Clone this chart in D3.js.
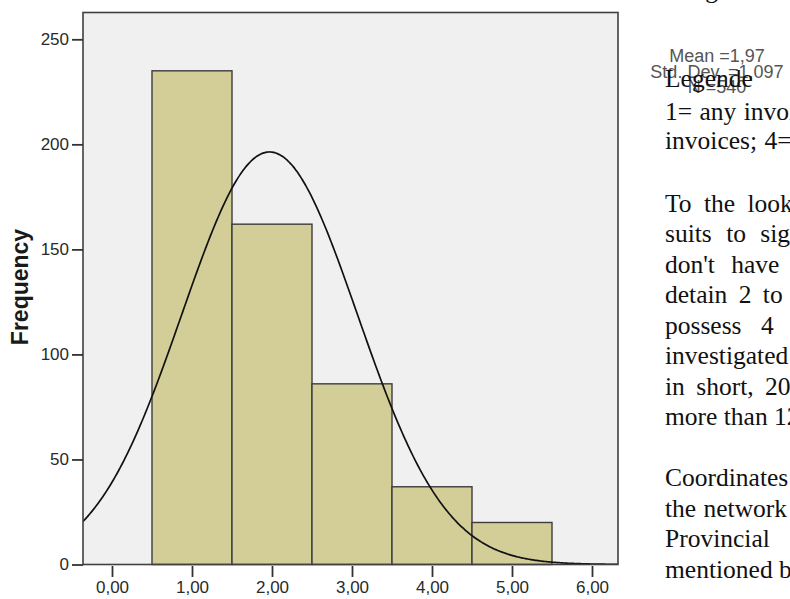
<!DOCTYPE html>
<html>
<head>
<meta charset="utf-8">
<script src="https://cdn.jsdelivr.net/npm/d3@7"></script>
<style>
  html, body { margin: 0; padding: 0; background: #ffffff; }
  svg { display: block; }
</style>
</head>
<body>
<svg id="chart" width="790" height="599"></svg>
<script>
// Histogram of invoice counts with fitted normal curve
const binCenters = [1, 2, 3, 4, 5];
const frequencies = [235, 162, 86, 37, 20];
const binWidth = 1;
const xTicks = [0, 1, 2, 3, 4, 5, 6];
const yTicks = [0, 50, 100, 150, 200, 250];
const meanValue = 1.97;
const stdDev = 1.097;
const totalN = 540;
const statLabels = ["Mean =1,97", "Std. Dev. =1,097", "N =540"];

// Accompanying text column (runs past the page edge)
const headingLines = ["Legende"];
const legendLines = [
  "1= any invoices; 2= 1 invoice; 3= 2 to 3",
  "invoices; 4= more than 3 invoices"
];
const paragraphOne = [
  "To the looking of the table, it",
  "suits to signal that 235 firms",
  "don't have any invoice, 162",
  "detain 2 to 3 invoices and 86",
  "possess 4 invoices of the",
  "investigated firms of the sample;",
  "in short, 20 firms possess",
  "more than 12 invoices."
];
const paragraphTwo = [
  "Coordinates of the firms within",
  "the network of the Chamber of",
  "Provincial Commerce are the",
  "mentioned by the sample."
];

const svg = d3.select("#chart");

const x = d3.scaleLinear().domain([0, 6]).range([112, 592]);
const y = d3.scaleLinear().domain([0, 250]).range([564.5, 39.3]);

const frame = { left: 83, right: 618, top: 12.5, bottom: 564.5 };
const xMin = x.invert(frame.left), xMax = x.invert(frame.right);

// Plot area background
svg.append("rect")
  .attr("x", frame.left).attr("y", frame.top)
  .attr("width", frame.right - frame.left)
  .attr("height", frame.bottom - frame.top)
  .attr("fill", "#f0f0f0");

// Bars
svg.append("g").selectAll("rect")
  .data(binCenters.map((c, i) => ({ c, f: frequencies[i] })))
  .join("rect")
  .attr("x", d => x(d.c - binWidth / 2))
  .attr("y", d => y(d.f))
  .attr("width", d => x(d.c + binWidth / 2) - x(d.c - binWidth / 2))
  .attr("height", d => y(0) - y(d.f))
  .attr("fill", "#d3ce97")
  .attr("stroke", "#3c3c3c")
  .attr("stroke-width", 1.4);

// Normal curve scaled to counts, kept inside the plot frame
svg.append("clipPath").attr("id", "plotClip")
  .append("rect")
  .attr("x", frame.left).attr("y", frame.top)
  .attr("width", frame.right - frame.left)
  .attr("height", frame.bottom - frame.top);

const pdf = v => totalN * binWidth / (stdDev * Math.sqrt(2 * Math.PI)) *
  Math.exp(-0.5 * Math.pow((v - meanValue) / stdDev, 2));
const curvePts = d3.range(xMin, xMax + 0.001, (xMax - xMin) / 300);
svg.append("path")
  .attr("clip-path", "url(#plotClip)")
  .datum(curvePts)
  .attr("d", d3.line().x(v => x(v)).y(v => y(pdf(v))).curve(d3.curveBasis))
  .attr("fill", "none")
  .attr("stroke", "#111")
  .attr("stroke-width", 1.7);

// Frame
svg.append("rect")
  .attr("x", frame.left).attr("y", frame.top)
  .attr("width", frame.right - frame.left)
  .attr("height", frame.bottom - frame.top)
  .attr("fill", "none")
  .attr("stroke", "#404040")
  .attr("stroke-width", 1.6);

// Y axis
const yAxis = d3.axisLeft(y).tickValues(yTicks).tickSize(11).tickPadding(3)
  .tickFormat(d3.format("d"));
const gy = svg.append("g").attr("transform", `translate(${frame.left},0)`).call(yAxis);
gy.select(".domain").remove();
gy.selectAll(".tick line").attr("stroke", "#333").attr("stroke-width", 1.8);
gy.selectAll(".tick text")
  .attr("fill", "#2a2a2a")
  .style("font-family", "'Liberation Sans', Arial, sans-serif")
  .style("font-size", "17px");

// X axis
const xAxis = d3.axisBottom(x).tickValues(xTicks).tickSize(11).tickPadding(4)
  .tickFormat(d => d3.format(".2f")(d).replace(".", ","));
const gx = svg.append("g").attr("transform", `translate(0,${frame.bottom + 1.5})`).call(xAxis);
gx.select(".domain").remove();
gx.selectAll(".tick line").attr("stroke", "#333").attr("stroke-width", 1.8);
gx.selectAll(".tick text")
  .attr("fill", "#2a2a2a")
  .style("font-family", "'Liberation Sans', Arial, sans-serif")
  .style("font-size", "17px");

// Y axis title
svg.append("text")
  .attr("transform", "translate(28,287) rotate(-90)")
  .attr("text-anchor", "middle")
  .style("font-family", "'Liberation Sans', Arial, sans-serif")
  .style("font-weight", "bold")
  .style("font-size", "23px")
  .attr("fill", "#1a1a1a")
  .text("Frequency");

// Summary statistics
svg.append("g").selectAll("text")
  .data(statLabels)
  .join("text")
  .attr("x", 717)
  .attr("y", (d, i) => 62 + i * 15.5)
  .attr("text-anchor", "middle")
  .style("font-family", "'Liberation Sans', Arial, sans-serif")
  .style("font-size", "18px")
  .attr("fill", "#555")
  .text(d => d);

// Text column
const serif = "'Liberation Serif', 'Times New Roman', serif";
const col = svg.append("g")
  .style("font-family", serif)
  .style("font-size", "25.5px")
  .attr("fill", "#111");

col.append("text").attr("x", 684).attr("y", -2).text("Fig");

col.selectAll("text.head")
  .data(headingLines).join("text").attr("class", "head")
  .attr("x", 665).attr("y", 87).text(d => d);

col.selectAll("text.leg")
  .data(legendLines).join("text").attr("class", "leg")
  .attr("x", 665).attr("y", (d, i) => 120 + i * 29)
  .style("word-spacing", "1px")
  .text(d => d);

const spacingOne = ["6px", "8px", "10px", "5px", "13px", "0px", "5px", "0px"];
col.selectAll("text.p1")
  .data(paragraphOne).join("text").attr("class", "p1")
  .attr("x", 665).attr("y", (d, i) => 211.5 + i * 30.5)
  .style("word-spacing", (d, i) => spacingOne[i])
  .text(d => d);

const spacingTwo = ["0px", "1px", "15px", "0px"];
col.selectAll("text.p2")
  .data(paragraphTwo).join("text").attr("class", "p2")
  .attr("x", 665).attr("y", (d, i) => 486 + i * 30.5)
  .style("word-spacing", (d, i) => spacingTwo[i])
  .text(d => d);
</script>
</body>
</html>
